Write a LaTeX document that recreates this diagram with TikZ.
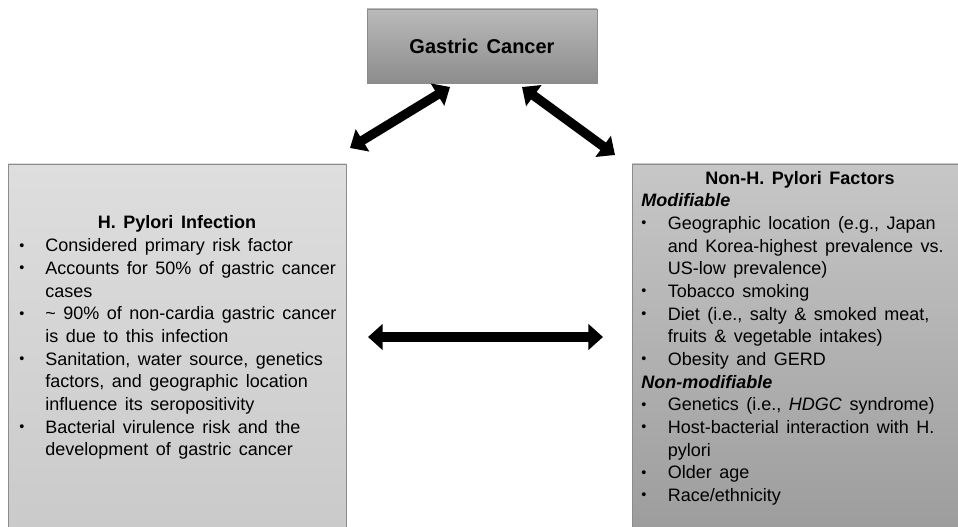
\documentclass[tikz,border=0pt]{standalone}
\usepackage{fontspec}
\setmainfont{Liberation Sans}[WordSpace=1.5]
\usetikzlibrary{arrows.meta,calc,positioning,shadings}
\newcommand\listdot{\raisebox{0.2ex}{\scalebox{0.8}{\textbullet}}}
\tikzset{
  box frame/.style  = {draw=black!45, line width=0.6pt, inner sep=0pt},
  cancer box/.style = {box frame, top color=black!27, bottom color=black!45,
                       minimum width=172.5pt, minimum height=55.5pt,
                       font=\bfseries\fontsize{15}{18}\selectfont},
  factor box/.style = {box frame, minimum width=253.5pt, minimum height=282pt},
  box title/.style  = {anchor=base, inner sep=0pt,
                       font=\bfseries\fontsize{13.5}{17}\selectfont},
  list text/.style  = {anchor=base west, inner sep=0pt,
                       font=\fontsize{13.5}{17}\selectfont},
  fat arrow/.style  = {{Triangle[length=11pt,width=19pt]}-{Triangle[length=11pt,width=19pt]},
                       line width=7pt},
}

\begin{document}
\begin{tikzpicture}[x=0.75pt,y=-0.75pt]
  \clip (0,0) rectangle (958,527);

  % boxes
  \node[cancer box] (cancer) at (482,46) {Gastric Cancer};
  \node[factor box, top color=black!13, bottom color=black!21] (hpylori) at (177,352) {};
  \node[factor box, top color=black!22, bottom color=black!39] (nonhp) at (801,352) {};

  % arrow ends
  \coordinate (hp up)   at (350,148);
  \coordinate (ca left) at (450,87);
  \coordinate (ca right) at (522,87);
  \coordinate (nh up)   at (615,155);
  \coordinate (hp side) at (368,337);
  \coordinate (nh side) at (603,337);

  \draw[fat arrow] (hp up) -- (ca left);
  \draw[fat arrow] (ca right) -- (nh up);
  \draw[fat arrow] (hp side) -- (nh side);

  % H. pylori side
  \node[box title] (hptitle) at (177,229) {H. Pylori Infection};
  \node[list text] (hplist) at (19,252) {\begin{tabular}[t]{@{}p{19.5pt}@{}l@{}}
    \listdot & Considered primary risk factor\\
    \listdot & Accounts for 50\% of gastric cancer\\
             & cases\\
    \listdot & \textasciitilde{} 90\% of non-cardia gastric cancer\\
             & is due to this infection\\
    \listdot & Sanitation, water source, genetics\\
             & factors, and geographic location\\
             & influence its seropositivity\\
    \listdot & Bacterial virulence risk and the\\
             & development of gastric cancer
  \end{tabular}};

  % non-H. pylori side
  \node[box title] (nhtitle) at (800,185) {Non-H. Pylori Factors};
  \node[list text] (nhlist) at (641,207) {\begin{tabular}[t]{@{}p{20pt}@{}l@{}}
    \multicolumn{2}{@{}l@{}}{\bfseries\itshape Modifiable}\\
    \listdot & Geographic location (e.g., Japan\\
             & and Korea-highest prevalence vs.\\
             & US-low prevalence)\\
    \listdot & Tobacco smoking\\
    \listdot & Diet (i.e., salty \& smoked meat,\\
             & fruits \& vegetable intakes)\\
    \listdot & Obesity and GERD\\
    \multicolumn{2}{@{}l@{}}{\bfseries\itshape Non-modifiable}\\
    \listdot & Genetics (i.e., \textit{HDGC} syndrome)\\
    \listdot & Host-bacterial interaction with H.\\
             & pylori\\
    \listdot & Older age\\
    \listdot & Race/ethnicity
  \end{tabular}};
\end{tikzpicture}
\end{document}
